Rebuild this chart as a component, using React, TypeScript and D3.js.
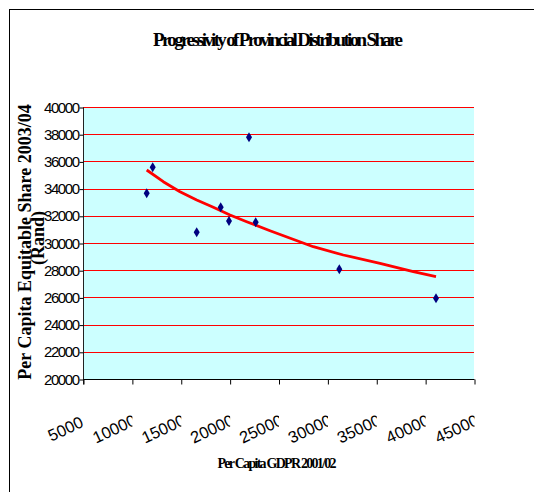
import { useEffect, useRef } from 'react'
import * as d3 from 'd3'

// provinces: per capita GDPR 2001/02 vs per capita equitable share 2003/04
const gdpPerCapita = [11517, 12130, 16632, 19087, 19936, 21982, 22667, 31220, 41113]
const equitableShare = [33654, 35566, 30787, 32625, 31618, 37772, 31522, 28066, 25934]

// trend line
const trendGdp = [11517, 13215, 14923, 16632, 18330, 20038, 21747, 24130, 28560, 31629, 35384, 38790, 41113]
const trendShare = [35368, 34507, 33772, 33162, 32625, 32059, 31566, 30904, 29728, 29118, 28507, 27890, 27522]

const xTicks = [5000, 10000, 15000, 20000, 25000, 30000, 35000, 40000, 45000]
const yTicks = [20000, 22000, 24000, 26000, 28000, 30000, 32000, 34000, 36000, 38000, 40000]

export default function App() {
  const svgRef = useRef<SVGSVGElement>(null)

  useEffect(() => {
    if (!svgRef.current) return
    const svg = d3.select(svgRef.current)
    svg.selectAll('*').remove()

    const W = 534
    const H = 492
    const plot = { left: 83, right: 474, top: 107, bottom: 379 }

    const x = d3.scaleLinear().domain([5000, 45000]).range([plot.left, plot.right])
    const y = d3.scaleLinear().domain([20000, 40000]).range([plot.bottom, plot.top])

    svg.attr('width', W).attr('height', H)

    svg.append('rect')
      .attr('width', W).attr('height', H)
      .attr('fill', '#fff')

    // chart frame
    svg.append('rect')
      .attr('x', 9.5).attr('y', 9.5)
      .attr('width', W + 10).attr('height', H + 10)
      .attr('fill', 'none')
      .attr('stroke', '#000')
      .attr('stroke-width', 1)

    // title, letters crowded together like the original
    svg.append('text')
      .attr('x', 278).attr('y', 46)
      .attr('text-anchor', 'middle')
      .attr('textLength', 250)
      .attr('lengthAdjust', 'spacing')
      .style('font-family', '"Liberation Serif", "Times New Roman", serif')
      .style('font-weight', 'bold')
      .style('font-size', '19px')
      .text('Progressivity of Provincial Distribution Share')

    // plot area
    svg.append('rect')
      .attr('x', plot.left).attr('y', plot.top)
      .attr('width', plot.right - plot.left)
      .attr('height', plot.bottom - plot.top)
      .attr('fill', '#ccffff')

    // gridlines
    svg.append('g')
      .selectAll('line')
      .data(yTicks.filter(t => t > 20000))
      .enter().append('line')
      .attr('x1', plot.left).attr('x2', plot.right)
      .attr('y1', d => Math.round(y(d)) + 0.5)
      .attr('y2', d => Math.round(y(d)) + 0.5)
      .attr('stroke', '#ff0000')
      .attr('stroke-width', 1)

    // y axis
    const yAxis = svg.append('g')
      .attr('transform', `translate(${plot.left + 0.5},0.5)`)
      .call(d3.axisLeft(y).tickValues(yTicks).tickSize(4).tickFormat(() => ''))
    yAxis.select('.domain').attr('stroke', '#222').attr('d', `M0,${plot.top}V${plot.bottom + 5}`)
    yAxis.selectAll('.tick line').attr('stroke', '#000')

    svg.append('g')
      .selectAll('text')
      .data(yTicks)
      .enter().append('text')
      .attr('x', 80)
      .attr('y', d => y(d) + 5.5)
      .attr('text-anchor', 'end')
      .attr('textLength', 36)
      .attr('lengthAdjust', 'spacing')
      .style('font-family', '"Liberation Sans", Arial, sans-serif')
      .style('font-size', '15px')
      .style('fill', '#000')
      .text(d => String(d))

    // x axis
    const xAxis = svg.append('g')
      .attr('transform', `translate(0.5,${plot.bottom + 0.5})`)
      .call(d3.axisBottom(x).tickValues(xTicks).tickSize(5).tickFormat(() => ''))
    xAxis.select('.domain').attr('stroke', '#000').attr('d', `M${plot.left},0H${plot.right}`)
    xAxis.selectAll('.tick line').attr('stroke', '#000')

    // x labels are cut at their tick, as in the original
    const defs = svg.append('defs')
    xTicks.forEach((t, i) => {
      defs.append('clipPath')
        .attr('id', `xl-clip-${i}`)
        .append('rect')
        .attr('x', 0).attr('y', 380)
        .attr('width', x(t) + 0.5)
        .attr('height', 100)
    })

    svg.append('g')
      .selectAll('g')
      .data(xTicks)
      .enter().append('g')
      .attr('clip-path', (_, i) => `url(#xl-clip-${i})`)
      .append('text')
      .attr('transform', d => `translate(${x(d) - 15},434) rotate(-25)`)
      .attr('text-anchor', 'middle')
      .style('font-family', '"Liberation Sans", Arial, sans-serif')
      .style('font-size', '16.5px')
      .style('fill', '#000')
      .text(d => String(d))

    // axis titles
    const yTitle = svg.append('text')
      .attr('transform', 'translate(31,242) rotate(-90)')
      .attr('text-anchor', 'middle')
      .style('font-family', '"Liberation Serif", "Times New Roman", serif')
      .style('font-weight', 'bold')
      .style('font-size', '18px')
    yTitle.append('tspan').attr('x', 0).attr('y', 0).text('Per Capita Equitable Share 2003/04')
    yTitle.append('tspan').attr('x', 4).attr('y', 13).text('(Rand)')

    svg.append('text')
      .attr('x', 277).attr('y', 468)
      .attr('text-anchor', 'middle')
      .attr('textLength', 119)
      .attr('lengthAdjust', 'spacing')
      .style('font-family', '"Liberation Serif", "Times New Roman", serif')
      .style('font-weight', 'bold')
      .style('font-size', '14px')
      .text('Per Capita GDPR 2001/02')

    // trend line
    const trend = trendGdp.map((g, i) => [g, trendShare[i]] as [number, number])
    const line = d3.line<[number, number]>()
      .x(d => x(d[0]))
      .y(d => y(d[1]))

    svg.append('path')
      .datum(trend)
      .attr('fill', 'none')
      .attr('stroke', '#ff0000')
      .attr('stroke-width', 2.8)
      .attr('stroke-linejoin', 'round')
      .attr('d', line)

    // diamonds
    svg.append('g')
      .selectAll('path')
      .data(gdpPerCapita.map((g, i) => [g, equitableShare[i]]))
      .enter().append('path')
      .attr('transform', d => `translate(${x(d[0])},${y(d[1])})`)
      .attr('d', 'M0,-5L3,0L0,5L-3,0Z')
      .attr('fill', '#000080')
  }, [])

  return (
    <svg
      ref={svgRef}
      style={{ position: 'absolute', left: 0, top: 0, display: 'block' }}
    />
  )
}
